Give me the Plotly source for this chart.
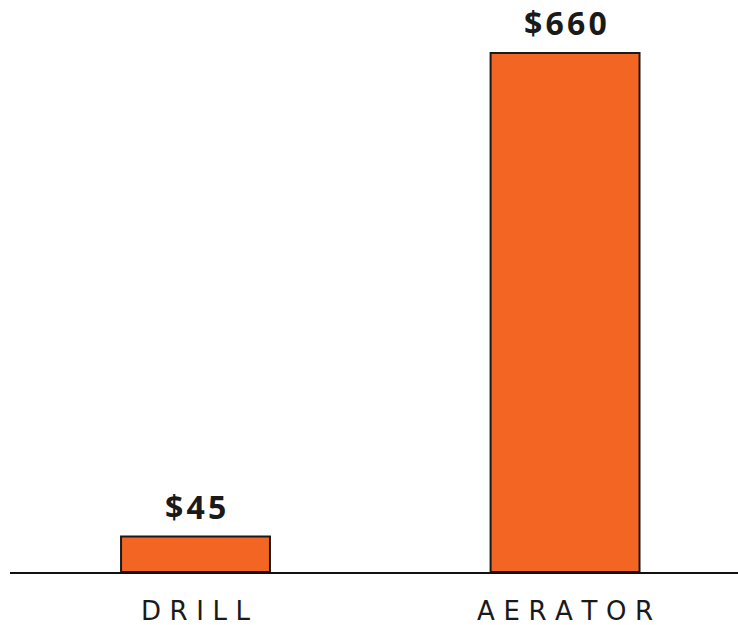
import plotly.graph_objects as go

categories = ["DRILL", "AERATOR"]
values = [45, 660]
value_labels = ["$45", "$660"]

tick_labels = ["\u2004".join(list(c)) for c in categories]
text_labels = ["\u200a".join(list(t)) for t in value_labels]

fig = go.Figure()
fig.add_trace(go.Bar(
    x=categories,
    y=values,
    width=0.403,
    marker=dict(color="#F26522", line=dict(color="#1a1a1a", width=2)),
    hoverinfo="skip",
))

for c, v, t in zip(categories, values, text_labels):
    fig.add_annotation(
        x=c, y=v, text="<b>" + t + "</b>", showarrow=False,
        yanchor="bottom", yshift=7,
        font=dict(family="Open Sans", size=32, color="#1a1a1a"),
    )

fig.update_layout(
    width=738, height=625,
    margin=dict(l=10, r=0, t=0, b=53),
    paper_bgcolor="white", plot_bgcolor="white",
    showlegend=False,
    xaxis=dict(
        type="category", range=[-0.502, 1.468],
        showline=True, linecolor="#111111", linewidth=2,
        showgrid=False, zeroline=False, ticks="",
        tickmode="array", tickvals=categories, ticktext=tick_labels,
        tickfont=dict(family="DejaVu Sans", size=26, color="#1a1a1a"),
        ticklabelstandoff=15, automargin=False,
    ),
    yaxis=dict(
        range=[0, 727.4], visible=False, showgrid=False, zeroline=False,
        automargin=False,
    ),
)

fig.write_html("out.html", config={"displayModeBar": False},
               post_script="document.body.style.margin='0';")
